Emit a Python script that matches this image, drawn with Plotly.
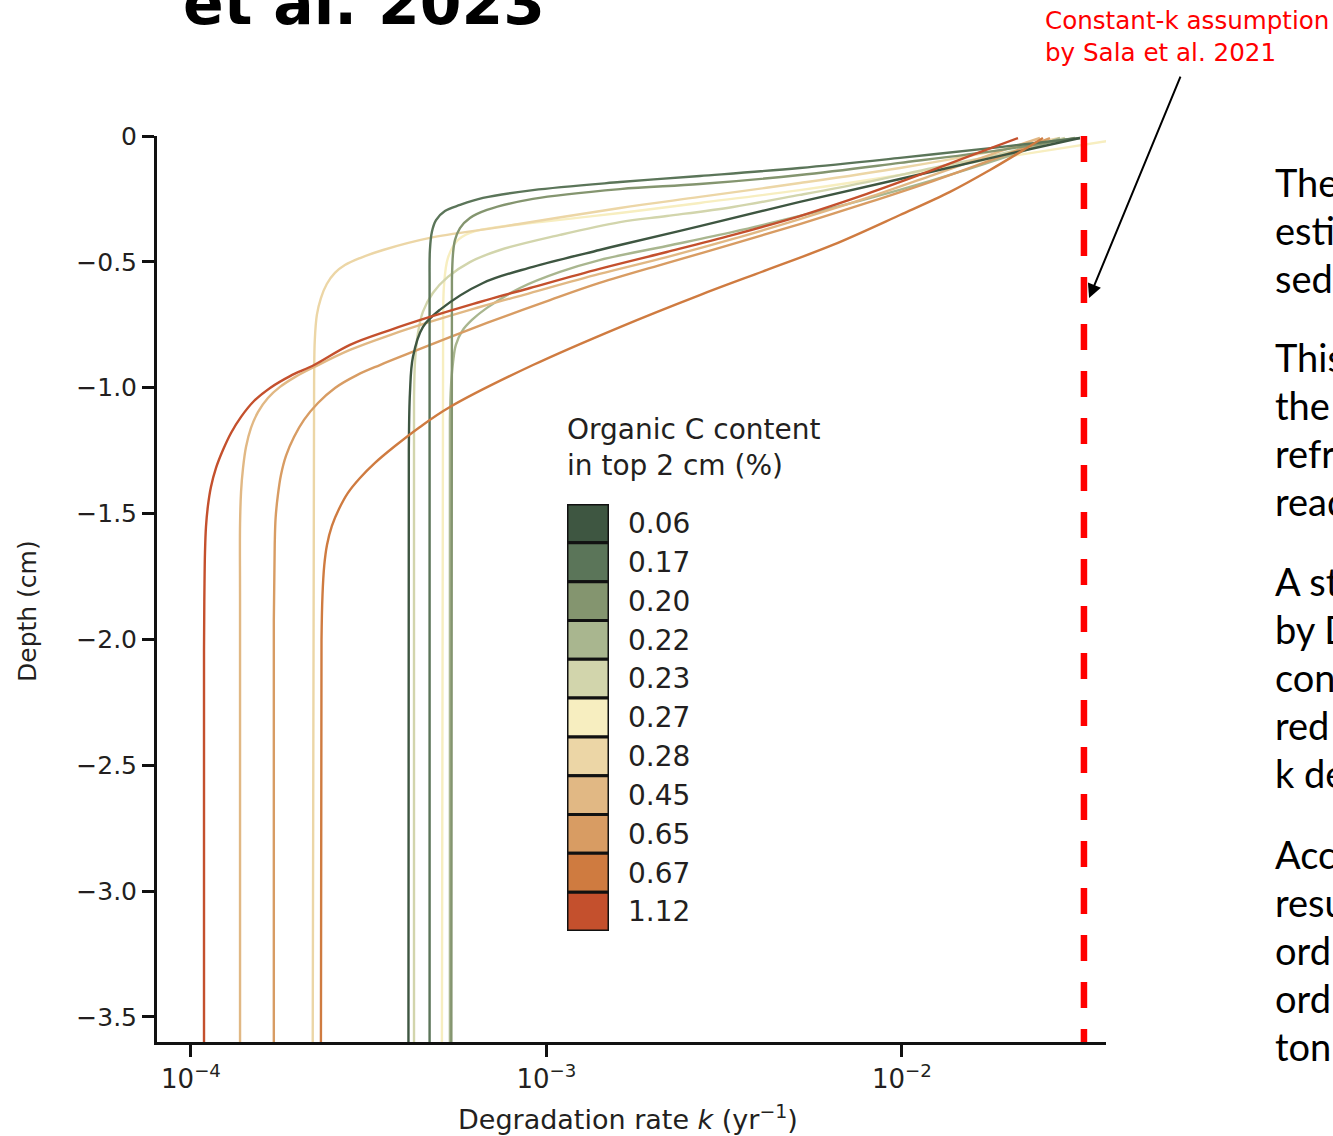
import math
import plotly.graph_objects as go

# ---------------- data ----------------
OC_LABELS = ["0.06", "0.17", "0.20", "0.22", "0.23", "0.27", "0.28", "0.45", "0.65", "0.67", "1.12"]
OC_COLORS = ["#3e5641", "#5b7559", "#84956f", "#a9b68f", "#d2d5ac", "#f7eec0",
             "#ecd6a6", "#e1b884", "#d89c63", "#cf7b40", "#c4502d"]

DEPTH_006 = [-0.008, -0.079, -0.171, -0.262, -0.358, -0.433, -0.453, -0.520, -0.584, -0.691, -0.759, -0.878, -1.021, -1.248, -3.6]
K_006 = [0.03167, 0.01886, 0.00987, 0.00516, 0.00270, 0.00161, 0.00141, 0.000916, 0.000663, 0.000501, 0.000449, 0.000421, 0.000413, 0.000410, 0.000409]

DEPTH_017 = [-0.008, -0.044, -0.087, -0.127, -0.159, -0.183, -0.215, -0.246, -0.274, -0.298, -0.334, -0.381, -0.453, -0.612, -3.6]
K_017 = [0.03167, 0.01886, 0.00987, 0.00516, 0.00270, 0.00161, 0.000916, 0.000663, 0.000571, 0.000518, 0.000489, 0.000476, 0.000470, 0.000469, 0.000469]

DEPTH_020 = [-0.008, -0.056, -0.107, -0.155, -0.191, -0.211, -0.250, -0.294, -0.326, -0.366, -0.413, -0.465, -0.572, -3.6]
K_020 = [0.03066, 0.01886, 0.00987, 0.00516, 0.00270, 0.00161, 0.000916, 0.000680, 0.000609, 0.000571, 0.000553, 0.000546, 0.000542, 0.000540]

DEPTH_022 = [-0.008, -0.091, -0.175, -0.250, -0.318, -0.381, -0.437, -0.493, -0.540, -0.604, -0.683, -0.731, -0.775, -0.830, -0.898, -0.989, -1.128, -3.6]
K_022 = [0.02782, 0.01886, 0.01222, 0.00797, 0.00516, 0.00335, 0.00218, 0.00141, 0.001091, 0.000842, 0.000680, 0.000617, 0.000579, 0.000556, 0.000546, 0.000539, 0.000535, 0.000535]

DEPTH_023 = [-0.008, -0.072, -0.127, -0.183, -0.234, -0.282, -0.318, -0.342, -0.393, -0.453, -0.501, -0.560, -0.624, -0.699, -0.783, -0.890, -1.049, -3.6]
K_023 = [0.02874, 0.01886, 0.01222, 0.00797, 0.00516, 0.00335, 0.00218, 0.00161, 0.001091, 0.000740, 0.000609, 0.000528, 0.000479, 0.000449, 0.000435, 0.000427, 0.000424, 0.000424]

DEPTH_027 = [-0.020, -0.087, -0.155, -0.215, -0.266, -0.306, -0.342, -0.366, -0.385, -0.417, -0.485, -0.592, -0.731, -3.6]
K_027 = [0.03772, 0.01886, 0.00987, 0.00516, 0.00270, 0.00161, 0.000959, 0.000694, 0.000609, 0.000560, 0.000528, 0.000515, 0.000512, 0.000508]

DEPTH_028 = [-0.008, -0.056, -0.127, -0.187, -0.242, -0.286, -0.362, -0.405, -0.453, -0.485, -0.513, -0.544, -0.588, -0.644, -0.711, -0.810, -0.969, -3.6]
K_028 = [0.02782, 0.01886, 0.00987, 0.00516, 0.00270, 0.00161, 0.000740, 0.000470, 0.000347, 0.000299, 0.000271, 0.000254, 0.000241, 0.000232, 0.000226, 0.000223, 0.000222, 0.000220]

DEPTH_045 = [-0.008, -0.075, -0.155, -0.246, -0.330, -0.409, -0.481, -0.548, -0.624, -0.691, -0.739, -0.791, -0.850, -0.918, -0.958, -0.997, -1.041, -1.097, -1.160, -1.236, -1.319, -1.414, -1.546, -1.844, -3.6]
K_045 = [0.02444, 0.01768, 0.01222, 0.00797, 0.00516, 0.00335, 0.00218, 0.00141, 0.000899, 0.000609, 0.000470, 0.000363, 0.000280, 0.000222, 0.000196, 0.000178, 0.0001646, 0.0001543, 0.0001475, 0.0001428, 0.0001401, 0.0001383, 0.0001374, 0.0001374, 0.0001374]

DEPTH_065 = [-0.008, -0.083, -0.179, -0.266, -0.350, -0.429, -0.505, -0.584, -0.652, -0.743, -0.799, -0.862, -0.910, -0.950, -1.001, -1.061, -1.128, -1.196, -1.271, -1.347, -1.426, -1.518, -1.625, -1.923, -3.6]
K_065 = [0.02608, 0.01886, 0.01222, 0.00797, 0.00516, 0.00335, 0.00218, 0.00141, 0.001023, 0.000680, 0.000535, 0.000413, 0.000340, 0.000293, 0.0002542, 0.0002276, 0.0002079, 0.0001949, 0.0001850, 0.0001791, 0.0001756, 0.000173, 0.000172, 0.000171, 0.000171]

DEPTH_067 = [-0.008, -0.064, -0.135, -0.222, -0.314, -0.433, -0.532, -0.632, -0.759, -0.910, -1.077, -1.156, -1.232, -1.299, -1.359, -1.418, -1.482, -1.549, -1.625, -1.708, -1.824, -2.002, -3.6]
K_067 = [0.02492, 0.02148, 0.01768, 0.01365, 0.00987, 0.00639, 0.00417, 0.00270, 0.00161, 0.000916, 0.000535, 0.0004407, 0.0003749, 0.0003293, 0.0002988, 0.0002764, 0.0002608, 0.0002491, 0.0002413, 0.000237, 0.0002344, 0.0002329, 0.000232]

DEPTH_112 = [-0.008, -0.064, -0.135, -0.230, -0.318, -0.393, -0.461, -0.528, -0.604, -0.671, -0.719, -0.771, -0.830, -0.910, -0.954, -1.001, -1.053, -1.116, -1.180, -1.248, -1.319, -1.395, -1.470, -1.553, -1.653, -1.804, -2.042, -3.6]
K_112 = [0.02120, 0.01657, 0.01222, 0.00797, 0.00516, 0.00335, 0.00218, 0.00141, 0.000899, 0.000609, 0.000470, 0.000363, 0.000280, 0.000222, 0.000190, 0.0001669, 0.0001504, 0.0001383, 0.0001296, 0.0001230, 0.0001176, 0.0001138, 0.0001116, 0.0001102, 0.0001095, 0.0001091, 0.0001088, 0.0001088]

PROFILES = {
    "0.06": (DEPTH_006, K_006), "0.17": (DEPTH_017, K_017), "0.20": (DEPTH_020, K_020),
    "0.22": (DEPTH_022, K_022), "0.23": (DEPTH_023, K_023), "0.27": (DEPTH_027, K_027),
    "0.28": (DEPTH_028, K_028), "0.45": (DEPTH_045, K_045), "0.65": (DEPTH_065, K_065),
    "0.67": (DEPTH_067, K_067), "1.12": (DEPTH_112, K_112),
}
DRAW_ORDER = ["0.27", "0.28", "0.23", "0.22", "0.45", "0.65", "0.20", "0.17", "0.06", "0.67", "1.12"]

K_SALA = 0.0325            # constant-k assumption (yr^-1)
DEPTH_RANGE = [-3.6, 0.0]
K_LOG_RANGE = [-4.0956, -1.4261]
X_TICKS = [1e-4, 1e-3, 1e-2]
X_TICKTEXT = ["10<sup>\u22124</sup>", "10<sup>\u22123</sup>", "10<sup>\u22122</sup>"]
Y_TICKS = [0, -0.5, -1.0, -1.5, -2.0, -2.5, -3.0, -3.5]
Y_TICKTEXT = ["0", "\u22120.5", "\u22121.0", "\u22121.5", "\u22122.0", "\u22122.5", "\u22123.0", "\u22123.5"]

TITLE_TEXT = "et al. 2023"
NOTE_TEXT = "Constant-k assumption<br>by Sala et al. 2021"
SIDE_PARAGRAPHS = [
    ["The", "esti", "sed"],
    ["This", "the", "refr", "read"],
    ["A st", "by D", "con", "red", "k de"],
    ["Acc", "resu", "ord", "ord", "ton"],
]

# ---------------- layout geometry ----------------
W, H = 1333, 1136
ML, MR, MT, MB = 157, 227, 136, 94
PW = W - ML - MR
PH = H - MT - MB


def px(x):
    return (x - ML) / PW


def py(y):
    return (H - MB - y) / PH


FONT = "DejaVu Sans"
TXT = "#231f20"

fig = go.Figure()

color_of = dict(zip(OC_LABELS, OC_COLORS))
for lab in DRAW_ORDER:
    d, k = PROFILES[lab]
    fig.add_trace(go.Scatter(
        x=k, y=d, mode="lines", name=lab, showlegend=False, hoverinfo="skip",
        line=dict(color=color_of[lab], width=2.4, shape="spline", smoothing=1.0),
    ))

# constant-k dashed line
fig.add_trace(go.Scatter(
    x=[K_SALA, K_SALA], y=[DEPTH_RANGE[1], DEPTH_RANGE[0]], mode="lines",
    showlegend=False, hoverinfo="skip",
    line=dict(color="#ff0000", width=6.5, dash="26px,21px"),
))

# colour key as stacked cells
n = len(OC_LABELS)
fig.add_trace(go.Bar(
    x=[0] * n, y=[1] * n, base=list(range(n - 1, -1, -1)), width=1,
    marker=dict(color=OC_COLORS, line=dict(color="#111111", width=3)),
    xaxis="x2", yaxis="y2", showlegend=False, hoverinfo="skip", cliponaxis=False,
))

annotations = [
    dict(text="Organic C content<br>in top 2 cm (%)", xref="paper", yref="paper",
         x=px(565), y=py(447), xanchor="left", yanchor="middle", align="left",
         showarrow=False, font=dict(family=FONT, size=28, color=TXT)),
    dict(text="Depth (cm)", xref="paper", yref="paper", x=px(27), y=py(611),
         xanchor="center", yanchor="middle", textangle=-90, showarrow=False,
         font=dict(family=FONT, size=25, color=TXT)),
    dict(text="Degradation rate <i>k</i> (yr<sup>\u22121</sup>)", xref="paper", yref="paper",
         x=px(628), y=py(1117), xanchor="center", yanchor="middle", showarrow=False,
         font=dict(family=FONT, size=27, color=TXT)),
    dict(text=TITLE_TEXT, xref="paper", yref="paper", x=px(181), y=py(3),
         xanchor="left", yanchor="middle", showarrow=False,
         font=dict(family="DejaVu Sans", size=60, color="#000000", weight="bold")),
    dict(text=NOTE_TEXT, xref="paper", yref="paper", x=px(1043), y=py(36),
         xanchor="left", yanchor="middle", align="left", showarrow=False,
         font=dict(family=FONT, size=24.6, color="#ff0000")),
    dict(text="", x=math.log10(0.0336), y=-0.644, xref="x", yref="y",
         showarrow=True, ax=92, ay=-223, axref="pixel", ayref="pixel",
         arrowhead=2, arrowsize=1.4, arrowwidth=2, arrowcolor="#000000"),
]

para_start = [182, 357, 581, 854]
for p, lines in enumerate(SIDE_PARAGRAPHS):
    for i, t in enumerate(lines):
        annotations.append(dict(
            text=t, xref="paper", yref="paper", x=px(1273), y=py(para_start[p] + 48 * i),
            xanchor="left", yanchor="middle", showarrow=False,
            font=dict(family="Lato", size=38, color="#000000"),
        ))

fig.update_layout(
    width=W, height=H,
    margin=dict(l=ML, r=MR, t=MT, b=MB, pad=0),
    paper_bgcolor="white", plot_bgcolor="white",
    showlegend=False,
    font=dict(family=FONT, color=TXT),
    xaxis=dict(
        type="log", range=K_LOG_RANGE, tickvals=X_TICKS, ticktext=X_TICKTEXT,
        showgrid=False, zeroline=False, showline=True, linecolor="#111111", linewidth=3,
        ticks="outside", ticklen=12, tickwidth=2.5, tickcolor="#111111",
        tickfont=dict(family=FONT, size=26, color=TXT), mirror=False,
    ),
    yaxis=dict(
        range=DEPTH_RANGE, tickvals=Y_TICKS, ticktext=Y_TICKTEXT,
        showgrid=False, zeroline=False, showline=True, linecolor="#111111", linewidth=3,
        ticks="outside", ticklen=12, tickwidth=2.5, tickcolor="#111111",
        tickfont=dict(family=FONT, size=25, color=TXT), mirror=False,
    ),
    xaxis2=dict(domain=[px(567), px(609)], range=[-0.5, 0.5], anchor="y2", visible=False,
                fixedrange=True),
    yaxis2=dict(domain=[py(931), py(504)], range=[0, n], anchor="x2", side="right",
                tickvals=[n - 0.5 - i for i in range(n)], ticktext=OC_LABELS,
                showgrid=False, zeroline=False, showline=False, ticks="",
                ticklabelstandoff=18,
                tickfont=dict(family=FONT, size=28, color=TXT), fixedrange=True),
    annotations=annotations,
)

fig.write_html("out.html", config={"displayModeBar": False},
               post_script="document.body.style.margin='0';document.body.style.overflow='hidden';")
